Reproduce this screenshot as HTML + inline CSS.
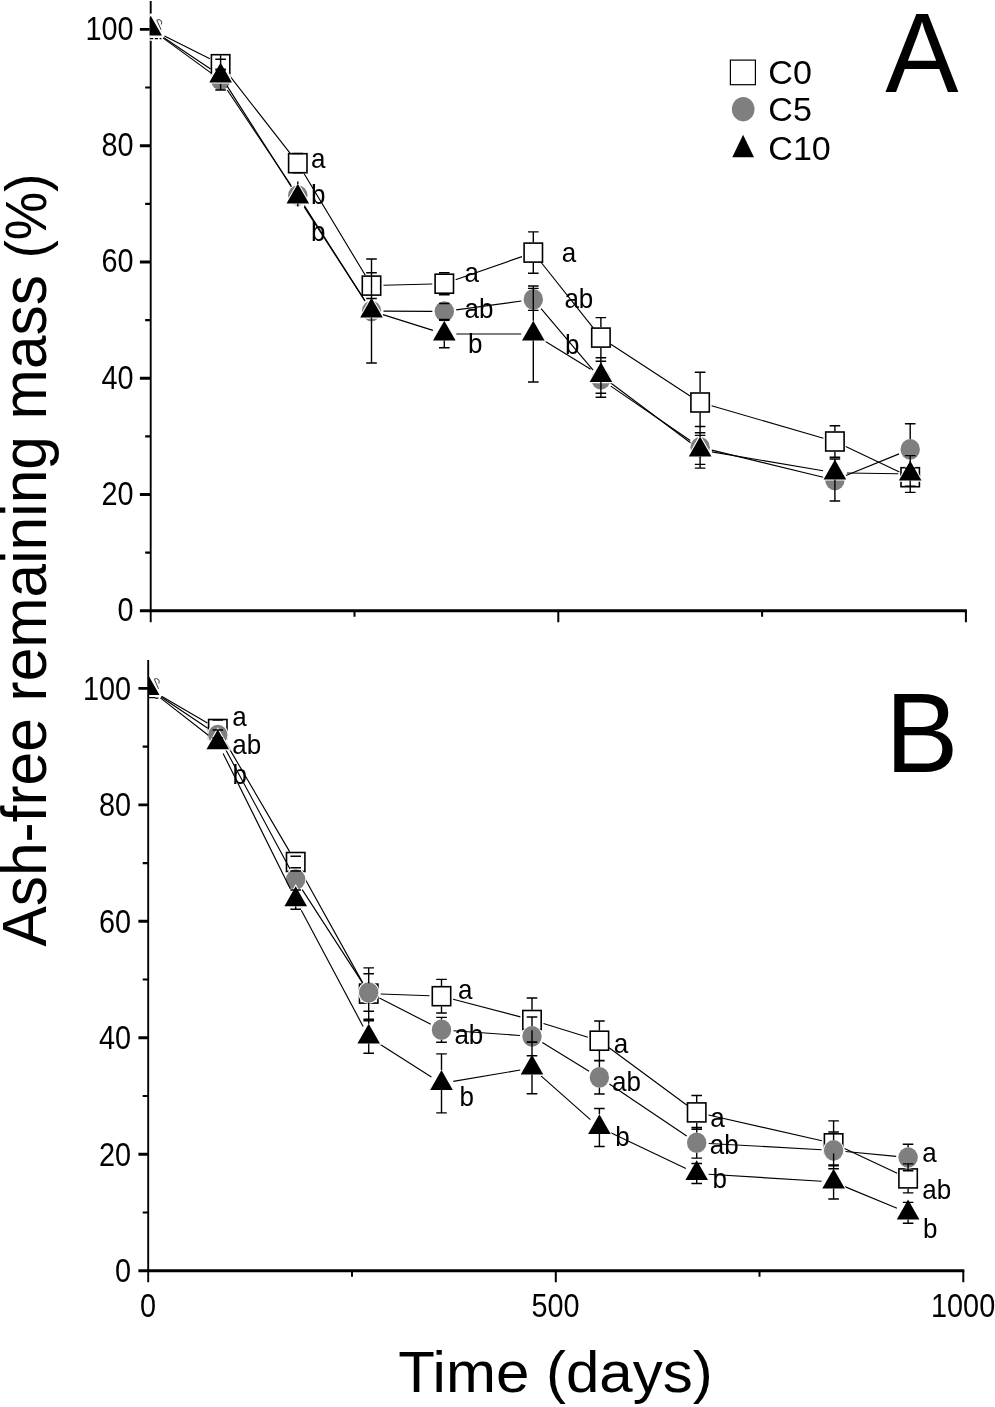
<!DOCTYPE html>
<html lang="en"><head><meta charset="utf-8"><title>Ash-free remaining mass</title>
<style>html,body{margin:0;padding:0;background:#fff}body{width:995px;height:1407px;overflow:hidden}svg{display:block}</style></head><body>
<svg width="995" height="1407" viewBox="0 0 995 1407" font-family="Liberation Sans, sans-serif" fill="#000">
<rect width="995" height="1407" fill="#fff"/>
<defs><clipPath id="clipA"><rect x="149.6" y="0" width="850" height="640"/></clipPath><clipPath id="clipB"><rect x="148.2" y="640" width="850" height="660"/></clipPath></defs>
<g id="panelA">
<g stroke="#000" fill="none" stroke-linecap="butt"><path d="M150.7 1V622.3" stroke-width="1.9"/><path d="M139.9 610.8H966.9" stroke-width="2.9"/><path d="M139.9 494.5H150.7M139.9 378.2H150.7M139.9 262H150.7M139.9 145.7H150.7M139.9 29.4H150.7" stroke-width="2.9"/><path d="M145.2 552.7H150.7M145.2 436.4H150.7M145.2 320.1H150.7M145.2 203.8H150.7M145.2 87.5H150.7" stroke-width="2.2"/><path d="M558.3 610.8V622.3M965.9 610.8V622.3M354.5 610.8V616.8M762.1 610.8V616.8" stroke-width="2"/></g><g font-size="31" text-anchor="end"><text transform="translate(133.5 621.2) scale(0.93 1.045)">0</text><text transform="translate(133.5 504.9) scale(0.93 1.045)">20</text><text transform="translate(133.5 388.6) scale(0.93 1.045)">40</text><text transform="translate(133.5 272.4) scale(0.93 1.045)">60</text><text transform="translate(133.5 156.1) scale(0.93 1.045)">80</text><text transform="translate(133.5 39.8) scale(0.93 1.045)">100</text></g>
<g clip-path="url(#clipA)"><path d="M164.5 36L209.9 58.8M228 73.7L290.4 153.7M304 173.5L365.3 275.3M383.5 285.3L432.3 284M455.6 279.7L522 256.6M540.8 262L593.4 328.2M610.9 344.2L690.1 395.9M711.6 405.8L823.4 438.2M845.7 446.6L899.4 472.1" stroke="#000" stroke-width="1.15" fill="none"/><g fill="#fff" stroke="#000" stroke-width="1.6"><rect x="211.4" y="54.7" width="18.4" height="19"/><rect x="288.6" y="153.7" width="18.4" height="19"/><rect x="362.3" y="276.1" width="18.4" height="19"/><rect x="435.1" y="274.2" width="18.4" height="19"/><rect x="524.1" y="243.1" width="18.4" height="19"/><rect x="591.7" y="328.1" width="18.4" height="19"/><rect x="690.9" y="393" width="18.4" height="19"/><rect x="825.7" y="432" width="18.4" height="19"/><rect x="901" y="467.7" width="18.4" height="19"/></g><path d="M163.2 38.1L210.9 72.9M227.3 90L291.1 185.5M304.3 205.6L365 300.9M383.5 311.1L432.3 311.4M456.2 309.9L521.4 301M541.1 308.6L593.1 370.1M610.8 386.1L690.2 440.5M711.8 450.1L823.2 477.2M846 475.5L899.1 453.9" stroke="#000" stroke-width="1.15" fill="none"/><g fill="#7f7f7f" stroke="#fff" stroke-width="1.8" paint-order="stroke"><ellipse cx="220.6" cy="80" rx="9.7" ry="10.3"/><ellipse cx="297.8" cy="195.5" rx="9.7" ry="10.3"/><ellipse cx="371.5" cy="311" rx="9.7" ry="10.3"/><ellipse cx="444.3" cy="311.5" rx="9.7" ry="10.3"/><ellipse cx="533.3" cy="299.4" rx="9.7" ry="10.3"/><ellipse cx="600.9" cy="379.3" rx="9.7" ry="10.3"/><ellipse cx="700.1" cy="447.3" rx="9.7" ry="10.3"/><ellipse cx="834.9" cy="480" rx="9.7" ry="10.3"/><ellipse cx="910.2" cy="449.4" rx="9.7" ry="10.3"/></g><path d="M163.6 37.6L210.6 69.1M227 85.9L291.4 186.9M304.3 207.1L365 300.9M382.9 314.6L432.9 330.4M456.3 334L521.3 334M543.5 340.3L590.7 369.2M610.5 382.7L690.5 442.7M711.9 451.9L823.1 470.8M846.9 473L898.2 473.8" stroke="#000" stroke-width="1.15" fill="none"/><rect x="149" y="13.6" width="4" height="27.2" fill="#fff"/><path d="M150 38.6H161.5" stroke="#000" stroke-width="1.3" stroke-dasharray="3.2 1.6" fill="none"/><path d="M156.7 20.2q2.3 -1.4 4.4 0.4q1 1.4 0.3 3.9M156.9 20.4l4.2 9.4" stroke="#222" stroke-width="0.9" fill="none"/><g fill="#000" stroke="#fff" stroke-width="2.2" paint-order="stroke" stroke-linejoin="miter"><path d="M150.7 15.7L162 35.6L139.4 35.6Z"/><path d="M220.6 62.5L231.9 82.4L209.3 82.4Z"/><path d="M297.8 183.7L309.1 203.6L286.5 203.6Z"/><path d="M371.5 297.7L382.8 317.6L360.2 317.6Z"/><path d="M444.3 320.7L455.6 340.6L433 340.6Z"/><path d="M533.3 320.7L544.6 340.6L522 340.6Z"/><path d="M600.9 362.2L612.2 382.1L589.6 382.1Z"/><path d="M700.1 436.6L711.4 456.5L688.8 456.5Z"/><path d="M834.9 459.5L846.2 479.4L823.6 479.4Z"/><path d="M910.2 460.7L921.5 480.6L898.9 480.6Z"/></g><path d="M215.3 59.2H225.9M215.3 69.2H225.9M292.5 153.5H303.1M292.5 172.9H303.1M366.2 272.7H376.8M366.2 298.5H376.8M371.5 272.7V275.3M371.5 295.9V298.5M439 272.7H449.6M439 294.7H449.6M444.3 272.7V273.4M444.3 294V294.7M528 231.9H538.6M528 273.3H538.6M533.3 231.9V242.3M533.3 262.9V273.3M595.6 317.6H606.2M595.6 357.6H606.2M600.9 317.6V327.3M600.9 347.9V357.6M694.8 372.2H705.4M694.8 432.8H705.4M700.1 372.2V392.2M700.1 412.8V432.8M829.6 425.7H840.2M829.6 457.3H840.2M834.9 425.7V431.2M834.9 451.8V457.3M904.9 468.2H915.5M904.9 486.2H915.5M215.3 70H225.9M215.3 90H225.9M439 303.5H449.6M439 319.5H449.6M528 288.4H538.6M528 310.4H538.6M533.3 288.4V289.1M533.3 309.7V310.4M595.6 361.3H606.2M595.6 397.3H606.2M600.9 361.3V369M600.9 389.6V397.3M694.8 426.5H705.4M694.8 468.1H705.4M700.1 426.5V437M700.1 457.6V468.1M829.6 459H840.2M829.6 501H840.2M834.9 459V469.7M834.9 490.3V501M904.9 423.8H915.5M904.9 475H915.5M910.2 423.8V439.1M910.2 459.7V475M366.2 259H376.8M366.2 363H376.8M371.5 259V297.7M371.5 317.6V363M439 320.3H449.6M439 347.7H449.6M444.3 320.3V320.7M444.3 340.6V347.7M528 286H538.6M528 382H538.6M533.3 286V320.7M533.3 340.6V382M595.6 357.7H606.2M595.6 393.3H606.2M600.9 357.7V362.2M600.9 382.1V393.3M694.8 435.4H705.4M694.8 464.4H705.4M700.1 435.4V436.6M700.1 456.5V464.4M904.9 455.6H915.5M904.9 492.4H915.5M910.2 455.6V460.7M910.2 480.6V492.4M220.6 55.2V64M220.6 84V90M297.8 181.6V184M297.8 203.6V206.6M834.9 479.4V501" stroke="#000" stroke-width="1.4" fill="none"/></g>
</g>
<g id="panelB">
<g clip-path="url(#clipB)"><path d="M161.6 696.2L207.4 723M223.9 739.4L289.6 851.6M301.5 872.5L362.9 983.1M380.7 994L429.5 995.8M453.1 999.3L520.4 1016.9M543.5 1023.5L587.9 1037.2M609.1 1047.8L687 1105.3M708.4 1115L821.9 1140.7M844.5 1148.4L897.2 1173.3" stroke="#000" stroke-width="1.15" fill="none"/><g fill="#fff" stroke="#000" stroke-width="1.6"><rect x="208.6" y="719.5" width="18.4" height="19"/><rect x="286.5" y="852.5" width="18.4" height="19"/><rect x="359.5" y="984.1" width="18.4" height="19"/><rect x="432.3" y="986.7" width="18.4" height="19"/><rect x="522.8" y="1010.5" width="18.4" height="19"/><rect x="590.2" y="1031.2" width="18.4" height="19"/><rect x="687.5" y="1102.9" width="18.4" height="19"/><rect x="824.4" y="1133.8" width="18.4" height="19"/><rect x="898.9" y="1168.9" width="18.4" height="19"/></g><path d="M161.1 697L207.8 728.3M223.5 745.6L290 868.9M302.2 889.6L362.2 982.4M379.4 998L430.8 1024.3M453.5 1030.7L520 1035.5M542.3 1042.6L589.1 1071.2M609.4 1084.1L686.7 1136.1M708.7 1143.5L821.6 1149.7M845.5 1151.5L896.2 1156.4" stroke="#000" stroke-width="1.15" fill="none"/><g fill="#7f7f7f" stroke="#fff" stroke-width="1.8" paint-order="stroke"><ellipse cx="217.8" cy="735" rx="9.7" ry="10.3"/><ellipse cx="295.7" cy="879.5" rx="9.7" ry="10.3"/><ellipse cx="368.7" cy="992.5" rx="9.7" ry="10.3"/><ellipse cx="441.5" cy="1029.8" rx="9.7" ry="10.3"/><ellipse cx="532" cy="1036.4" rx="9.7" ry="10.3"/><ellipse cx="599.4" cy="1077.4" rx="9.7" ry="10.3"/><ellipse cx="696.7" cy="1142.8" rx="9.7" ry="10.3"/><ellipse cx="833.6" cy="1150.4" rx="9.7" ry="10.3"/><ellipse cx="908.1" cy="1157.5" rx="9.7" ry="10.3"/></g><path d="M160.4 697.9L208.3 735.3M223.1 753.4L290.4 888.9M301.3 910.2L363.1 1026.4M378.8 1043.4L431.4 1077M453.3 1081.4L520.2 1070M541 1075.9L590.4 1119.6M610.2 1132.6L685.9 1168.4M708.7 1174.2L821.6 1181.3M844.7 1186.6L897 1208.2" stroke="#000" stroke-width="1.15" fill="none"/><path d="M149 697.6H155q1.6 1.4 3.4 0.2" stroke="#000" stroke-width="1.2" fill="none"/><path d="M154.2 679.2q2.3 -1.4 4.4 0.4q1 1.4 0.3 3.9M154.4 679.4l4.2 9.4" stroke="#222" stroke-width="0.9" fill="none"/><g fill="#000" stroke="#fff" stroke-width="2.2" paint-order="stroke" stroke-linejoin="miter"><path d="M148.2 675.1L159.5 695L136.9 695Z"/><path d="M217.8 729.4L229.1 749.3L206.5 749.3Z"/><path d="M295.7 886.3L307 906.2L284.4 906.2Z"/><path d="M368.7 1023.7L380 1043.6L357.4 1043.6Z"/><path d="M441.5 1070.1L452.8 1090L430.2 1090Z"/><path d="M532 1054.7L543.3 1074.6L520.7 1074.6Z"/><path d="M599.4 1114.2L610.7 1134.1L588.1 1134.1Z"/><path d="M696.7 1160.2L708 1180.1L685.4 1180.1Z"/><path d="M833.6 1168.7L844.9 1188.6L822.3 1188.6Z"/><path d="M908.1 1199.5L919.4 1219.4L896.8 1219.4Z"/></g><path d="M212.5 720H223.1M212.5 738H223.1M290.4 856.2H301M290.4 867.8H301M363.4 967.9H374M363.4 1019.3H374M368.7 967.9V983.3M368.7 1003.9V1019.3M436.2 979.4H446.8M436.2 1013H446.8M441.5 979.4V985.9M441.5 1006.5V1013M526.7 998H537.3M526.7 1042H537.3M532 998V1009.7M532 1030.3V1042M594.1 1021H604.7M594.1 1060.4H604.7M599.4 1021V1030.4M599.4 1051V1060.4M691.4 1095.5H702M691.4 1129.3H702M696.7 1095.5V1102.1M696.7 1122.7V1129.3M828.3 1120.9H838.9M828.3 1165.7H838.9M833.6 1120.9V1133M833.6 1153.6V1165.7M902.8 1163.9H913.4M902.8 1192.9H913.4M908.1 1163.9V1168.1M908.1 1188.7V1192.9M212.5 730H223.1M212.5 740H223.1M363.4 973.7H374M363.4 1011.3H374M368.7 973.7V982.2M368.7 1002.8V1011.3M436.2 1017.4H446.8M436.2 1042.2H446.8M441.5 1017.4V1019.5M441.5 1040.1V1042.2M526.7 1017H537.3M526.7 1055.8H537.3M532 1017V1026.1M532 1046.7V1055.8M594.1 1060.8H604.7M594.1 1094H604.7M599.4 1060.8V1067.1M599.4 1087.7V1094M691.4 1127.5H702M691.4 1158.1H702M696.7 1127.5V1132.5M696.7 1153.1V1158.1M828.3 1132H838.9M828.3 1168.8H838.9M833.6 1132V1140.1M833.6 1160.7V1168.8M902.8 1144.3H913.4M902.8 1170.7H913.4M908.1 1144.3V1147.2M908.1 1167.8V1170.7M212.5 737.7H223.1M212.5 747.7H223.1M290.4 890H301M290.4 909.2H301M295.7 906.2V909.2M363.4 1020.8H374M363.4 1053.2H374M368.7 1020.8V1023.7M368.7 1043.6V1053.2M436.2 1053.9H446.8M436.2 1112.9H446.8M441.5 1053.9V1070.1M441.5 1090V1112.9M526.7 1042.3H537.3M526.7 1093.7H537.3M532 1042.3V1054.7M532 1074.6V1093.7M594.1 1108.5H604.7M594.1 1146.5H604.7M599.4 1108.5V1114.2M599.4 1134.1V1146.5M691.4 1163.5H702M691.4 1183.5H702M696.7 1180.1V1183.5M828.3 1165H838.9M828.3 1199H838.9M833.6 1165V1168.7M833.6 1188.6V1199M902.8 1202.4H913.4M902.8 1223.2H913.4M908.1 1219.4V1223.2M290.4 871H301" stroke="#000" stroke-width="1.4" fill="none"/></g>
<g stroke="#000" fill="none" stroke-linecap="butt"><path d="M148.2 660V1282.2" stroke-width="1.9"/><path d="M138.4 1270.7H964.3" stroke-width="2.9"/><path d="M138.4 1154.2H148.2M138.4 1037.8H148.2M138.4 921.3H148.2M138.4 804.9H148.2M138.4 688.4H148.2" stroke-width="2.9"/><path d="M142.7 1212.5H148.2M142.7 1096H148.2M142.7 979.5H148.2M142.7 863.1H148.2M142.7 746.6H148.2" stroke-width="2.2"/><path d="M555.8 1270.7V1282.2M963.3 1270.7V1282.2M352 1270.7V1276.7M759.5 1270.7V1276.7" stroke-width="2"/></g><g font-size="31" text-anchor="end"><text transform="translate(131 1282.1) scale(0.93 1.045)">0</text><text transform="translate(131 1165.6) scale(0.93 1.045)">20</text><text transform="translate(131 1049.2) scale(0.93 1.045)">40</text><text transform="translate(131 932.7) scale(0.93 1.045)">60</text><text transform="translate(131 816.3) scale(0.93 1.045)">80</text><text transform="translate(131 699.8) scale(0.93 1.045)">100</text></g><g font-size="31" text-anchor="middle"><text transform="translate(148 1316.7) scale(0.93 1.045)">0</text><text transform="translate(555.5 1316.7) scale(0.93 1.045)">500</text><text transform="translate(963.1 1316.7) scale(0.93 1.045)">1000</text></g>
</g>
<g font-size="26">
<text transform="translate(311 167.8) scale(1 1.045)">a</text>
<text transform="translate(311 204) scale(1 1.045)">b</text>
<text transform="translate(311 241.2) scale(1 1.045)">b</text>
<text transform="translate(464.6 282.3) scale(1 1.045)">a</text>
<text transform="translate(464.6 317.5) scale(1 1.045)">ab</text>
<text transform="translate(468 352.7) scale(1 1.045)">b</text>
<text transform="translate(561.7 261.8) scale(1 1.045)">a</text>
<text transform="translate(564.4 307.8) scale(1 1.045)">ab</text>
<text transform="translate(565 353.9) scale(1 1.045)">b</text>
<text transform="translate(232.2 726.2) scale(1 1.045)">a</text>
<text transform="translate(232.2 753.5) scale(1 1.045)">ab</text>
<text transform="translate(232.6 784.2) scale(1 1.045)">b</text>
<text transform="translate(457.9 999.3) scale(1 1.045)">a</text>
<text transform="translate(454.4 1044.4) scale(1 1.045)">ab</text>
<text transform="translate(459.6 1106.3) scale(1 1.045)">b</text>
<text transform="translate(613.7 1053.1) scale(1 1.045)">a</text>
<text transform="translate(612 1090.6) scale(1 1.045)">ab</text>
<text transform="translate(615.3 1145.5) scale(1 1.045)">b</text>
<text transform="translate(710.3 1126.5) scale(1 1.045)">a</text>
<text transform="translate(709.7 1153.7) scale(1 1.045)">ab</text>
<text transform="translate(712.6 1188.4) scale(1 1.045)">b</text>
<text transform="translate(922.3 1161.8) scale(1 1.045)">a</text>
<text transform="translate(922.3 1198.9) scale(1 1.045)">ab</text>
<text transform="translate(923 1238.1) scale(1 1.045)">b</text>
</g>
<g id="legend">
<rect x="730.4" y="60.1" width="25" height="24.6" fill="#fff" stroke="#000" stroke-width="1.2"/>
<ellipse cx="743.2" cy="109.2" rx="11.3" ry="12.2" fill="#7f7f7f"/>
<path d="M743.1 134.7L754 157.3L732.3 157.3Z"/>
<g font-size="32"><text transform="translate(768.3 84) scale(1.065 1.045)">C0</text><text transform="translate(768.3 121.1) scale(1.065 1.045)">C5</text><text transform="translate(768.3 159.9) scale(1.065 1.045)">C10</text></g>
</g>
<g font-size="108"><text transform="translate(885.2 92.4) scale(1.018 1.046)">A</text><text transform="translate(885.2 772.4) scale(1.016 1.04)">B</text></g>
<text font-size="56" transform="translate(398.2 1392.2) scale(1.0716 1.034)">Time (days)</text>
<text font-size="60" transform="translate(46.4 946.5) rotate(-90) scale(1.007 1.06)">Ash-free remaining mass <tspan font-size="54">(%)</tspan></text>
</svg></body></html>
